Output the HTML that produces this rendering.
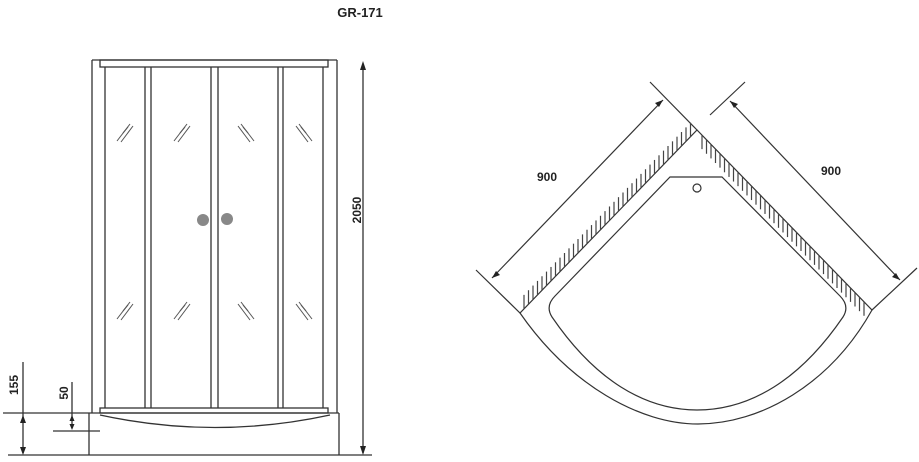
<!DOCTYPE html>
<html><head><meta charset="utf-8"><style>
html,body{margin:0;padding:0;background:#fff;}
svg{display:block}
text{font-family:"Liberation Sans",sans-serif;font-weight:bold;fill:#222}
</style></head><body>
<svg id="s" width="919" height="462" viewBox="0 0 919 462" xmlns="http://www.w3.org/2000/svg">
<text x="360" y="17" font-size="13" text-anchor="middle">GR-171</text>
<g stroke="#333" stroke-width="1.3" fill="none">
<line x1="92" y1="60" x2="92" y2="413"/>
<line x1="337" y1="60" x2="337" y2="413"/>
<line x1="92" y1="60" x2="337" y2="60"/>
<rect x="100" y="60" width="228" height="7"/>
<line x1="105" y1="67" x2="105" y2="408"/>
<line x1="145" y1="67" x2="145" y2="408"/>
<line x1="151" y1="67" x2="151" y2="408"/>
<line x1="211" y1="67" x2="211" y2="408"/>
<line x1="218" y1="67" x2="218" y2="408"/>
<line x1="278" y1="67" x2="278" y2="408"/>
<line x1="283" y1="67" x2="283" y2="408"/>
<line x1="323" y1="67" x2="323" y2="408"/>
<rect x="100" y="408" width="228" height="5"/>
<path d="M89 413 L89 455 M339 413 L339 455 M89 413 L339 413"/>
<path d="M100 415 Q215 440 330 415"/>
<line x1="8" y1="455" x2="372" y2="455"/>
<line x1="363" y1="64" x2="363" y2="453"/>
<line x1="23" y1="362" x2="23" y2="453"/>
<line x1="3" y1="413" x2="89" y2="413"/>
<line x1="72" y1="382" x2="72" y2="428"/>
<line x1="53" y1="431" x2="100" y2="431"/>
</g>
<g fill="#222">
<path d="M363 61 l-3 9 h6z M363 455 l-3 -9 h6z"/>
<path d="M23 415 l-3 8 h6z M23 455 l-3 -8 h6z"/>
<path d="M72 415 l-2.5 6 h5z M72 430 l-2.5 -6 h5z"/>
</g>
<text transform="translate(361,210) rotate(-90)" font-size="12" text-anchor="middle">2050</text>
<text transform="translate(18,385) rotate(-90)" font-size="12" text-anchor="middle">155</text>
<text transform="translate(68,393) rotate(-90)" font-size="12" text-anchor="middle">50</text>
<circle cx="203" cy="220" r="6" fill="#888"/>
<circle cx="227" cy="219" r="6" fill="#888"/>
<g id="glass" stroke="#555" stroke-width="1" fill="none"></g>
<g stroke="#333" stroke-width="1.2" fill="none">
<path d="M476 270 L520 313 L697 130 L872 310 L917 268"/>
<line x1="650" y1="82" x2="697" y2="130"/>
<line x1="710" y1="115" x2="745" y2="82"/>
<line x1="492" y1="278" x2="663" y2="100"/>
<line x1="730" y1="101" x2="900" y2="280"/>
<path d="M520 313 C570 385 640 424 698 424 C760 424 830 385 872 310"/>
<path d="M670 177 L722 177 L840 296 Q850 306 843 317 C800 380 750 410 697 410 C645 410 595 380 552 317 Q545 306 555 296 Z"/>
<circle cx="697" cy="188" r="4"/>
</g>
<g fill="#222">
<path d="M663 100 l-8 3 l4 4z M492 278 l8 -3 l-4 -4z M730 101 l8 3 l-4 4z M900 280 l-8 -3 l4 -4z"/>
</g>
<g id="hatch" stroke="#444" stroke-width="1.2"></g>
<text x="547" y="181" font-size="12" text-anchor="middle">900</text>
<text x="831" y="175" font-size="12" text-anchor="middle">900</text>
</svg>
<script>
var ns="http://www.w3.org/2000/svg";
function L(g,x1,y1,x2,y2){var l=document.createElementNS(ns,"line");l.setAttribute("x1",x1);l.setAttribute("y1",y1);l.setAttribute("x2",x2);l.setAttribute("y2",y2);g.appendChild(l);}
var gl=document.getElementById("glass");
[125,182,246,304].forEach(function(cx,i){[132,310].forEach(function(cy){
 var d=i<2?1:-1;
 L(gl,cx-8*d,cy+9,cx+5*d,cy-8);
 L(gl,cx-4*d,cy+10,cx+8*d,cy-6);
 L(gl,cx-2*d,cy+1,cx+3*d,cy-5);
});});
var h=document.getElementById("hatch");
for(var x=524;x<692;x+=4.5){var y=313-(x-520)*(183/177);L(h,x,y,x,y-14);}
for(var x=702;x<868;x+=4.5){var y=130+(x-697)*(180/175);L(h,x,y,x,y+14);}
</script>
</body></html>
